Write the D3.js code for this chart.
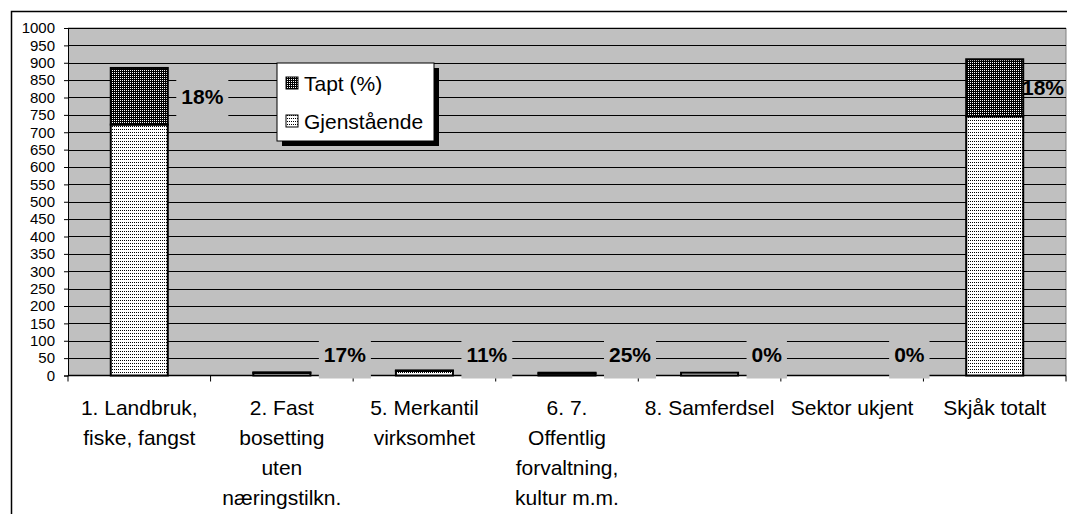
<!DOCTYPE html>
<html>
<head>
<meta charset="utf-8">
<script src="https://cdn.jsdelivr.net/npm/d3@7"></script>
<style>
  body { margin: 0; background: #fff; }
  text { font-family: Arial, "Liberation Sans", sans-serif; fill: #000; }
</style>
</head>
<body>
<div id="chart"></div>
<script>
// data
const categories = [
  ['1. Landbruk,', 'fiske, fangst'],
  ['2. Fast', 'bosetting', 'uten', 'næringstilkn.'],
  ['5. Merkantil', 'virksomhet'],
  ['6. 7.', 'Offentlig', 'forvaltning,', 'kultur m.m.'],
  ['8. Samferdsel'],
  ['Sektor ukjent'],
  ['Skjåk totalt']
];
const remaining = [722, 7.5, 13, 6, 8, 0, 746];
const lost = [163, 1.5, 1.6, 2, 0, 0, 164];
const lostPct = [18, 17, 11, 25, 0, 0, 18];
const yTicks = d3.range(0, 1001, 50);
const seriesNames = ['Tapt (%)', 'Gjenstående'];

const width = 1067, height = 514;
const plot = { left: 68, right: 1066, top: 28, bottom: 375.5 };

const svg = d3.select('#chart').append('svg')
  .attr('width', width)
  .attr('height', height);

// fill patterns like the old excel ones
const defs = svg.append('defs');
const dark = defs.append('pattern').attr('id', 'patDark')
  .attr('patternUnits', 'userSpaceOnUse').attr('width', 2).attr('height', 2);
dark.append('rect').attr('width', 2).attr('height', 2).attr('fill', '#000');
dark.append('rect').attr('width', 1).attr('height', 1).attr('fill', '#fff');

const light = defs.append('pattern').attr('id', 'patLight')
  .attr('patternUnits', 'userSpaceOnUse').attr('width', 2).attr('height', 3);
light.append('rect').attr('width', 2).attr('height', 3).attr('fill', '#fff');
light.append('rect').attr('width', 1).attr('height', 1).attr('fill', '#000');

// chart frame
svg.append('rect')
  .attr('x', 11.5).attr('y', 11.5)
  .attr('width', 1100).attr('height', 600)
  .attr('fill', '#fff').attr('stroke', '#000').attr('stroke-width', 1.5);

const x = d3.scaleBand()
  .domain(d3.range(categories.length))
  .range([plot.left, plot.right])
  .paddingInner(0.6)
  .paddingOuter(0.3);

const y = d3.scaleLinear()
  .domain([0, 1000])
  .range([plot.bottom, plot.top]);

// plot area
svg.append('rect')
  .attr('x', plot.left).attr('y', plot.top)
  .attr('width', plot.right - plot.left).attr('height', plot.bottom - plot.top)
  .attr('fill', '#c0c0c0');
svg.append('path')
  .attr('d', `M${plot.left},${plot.top}H${plot.right}V${plot.bottom}`)
  .attr('fill', 'none').attr('stroke', '#808080');

// gridlines
svg.append('g').selectAll('line').data(yTicks.slice(1)).enter().append('line')
  .attr('x1', plot.left).attr('x2', plot.right)
  .attr('y1', d => Math.round(y(d)) + 0.5).attr('y2', d => Math.round(y(d)) + 0.5)
  .attr('stroke', '#000');

// y axis
const yAxis = svg.append('g')
  .attr('transform', `translate(${plot.left},0)`)
  .call(d3.axisLeft(y).tickValues(yTicks).tickSize(4).tickPadding(9).tickFormat(d3.format('d')));
yAxis.selectAll('text').style('font-size', '15px').attr('fill', '#000');
yAxis.selectAll('line,path').attr('stroke', '#000');

// x axis (ticks between categories)
const step = x.step();
const xAxis = svg.append('g').attr('transform', `translate(0,${plot.bottom})`);
xAxis.append('line')
  .attr('x1', plot.left).attr('x2', plot.right)
  .attr('stroke', '#000').attr('stroke-width', 1.5);
xAxis.selectAll('.tk').data(d3.range(categories.length + 1)).enter().append('line')
  .attr('class', 'tk')
  .attr('x1', i => plot.left + i * step).attr('x2', i => plot.left + i * step)
  .attr('y1', 0).attr('y2', 6)
  .attr('stroke', '#000');

// category labels
const catLabels = svg.append('g').selectAll('text').data(categories).enter().append('text')
  .attr('text-anchor', 'middle')
  .attr('x', (d, i) => x(i) + x.bandwidth() / 2)
  .attr('y', 415)
  .style('font-size', '21px');
catLabels.selectAll('tspan').data(d => d).enter().append('tspan')
  .attr('x', function() { return this.parentNode.getAttribute('x'); })
  .attr('dy', (d, i) => i === 0 ? 0 : 30)
  .text(d => d);

// stacked bars
const rows = categories.map((c, i) => ({ i, remaining: remaining[i], lost: lost[i] }));
const stack = d3.stack().keys(['remaining', 'lost'])(rows);
const fills = { remaining: 'url(#patLight)', lost: 'url(#patDark)' };

svg.append('g').selectAll('g').data(stack).enter().append('g')
  .attr('fill', d => fills[d.key])
  .selectAll('rect').data(d => d.filter(s => s[1] > s[0])).enter().append('rect')
  .attr('x', d => x(d.data.i))
  .attr('y', d => y(d[1]))
  .attr('width', x.bandwidth())
  .attr('height', d => y(d[0]) - y(d[1]))
  .attr('stroke', '#000')
  .attr('stroke-width', 2);

// percent labels with grey box behind
const labelG = svg.append('g');
rows.forEach((r, i) => {
  const mid = r.remaining + r.lost / 2;
  const cy = Math.min(y(mid), y(0) - 21);
  const g = labelG.append('g');
  const box = g.append('rect').attr('fill', '#c0c0c0');
  const t = g.append('text')
    .attr('x', x(i) + x.bandwidth() / 2 + 42)
    .attr('y', cy)
    .attr('dy', '0.36em')
    .style('font-size', '21px')
    .style('font-weight', 'bold')
    .text(lostPct[i] + '%');
  const w = t.node().getComputedTextLength();
  let tx = x(i) + x.bandwidth() / 2 + 42;
  if (tx + w > plot.right - 2) {
    tx = plot.right - 2 - w;
    t.attr('x', tx);
    box.remove();
  } else {
    box.attr('x', tx - 5).attr('y', cy - 24).attr('width', w + 10).attr('height', 48);
  }
});

// legend
const legend = svg.append('g').attr('transform', 'translate(277,63)');
legend.append('rect').attr('x', 5).attr('y', 5).attr('width', 157).attr('height', 78).attr('fill', '#000');
legend.append('rect').attr('width', 157).attr('height', 78)
  .attr('fill', '#fff').attr('stroke', '#000');
const legendFills = ['url(#patDark)', 'url(#patLight)'];
const items = legend.selectAll('.item').data(seriesNames).enter().append('g')
  .attr('class', 'item')
  .attr('transform', (d, i) => `translate(0,${20 + i * 38})`);
items.append('rect')
  .attr('x', 9).attr('y', -6)
  .attr('width', 12).attr('height', 12)
  .attr('fill', (d, i) => legendFills[i])
  .attr('stroke', '#000');
items.append('text')
  .attr('x', 27).attr('dy', '0.36em')
  .style('font-size', '21px')
  .text(d => d);
</script>
</body>
</html>
